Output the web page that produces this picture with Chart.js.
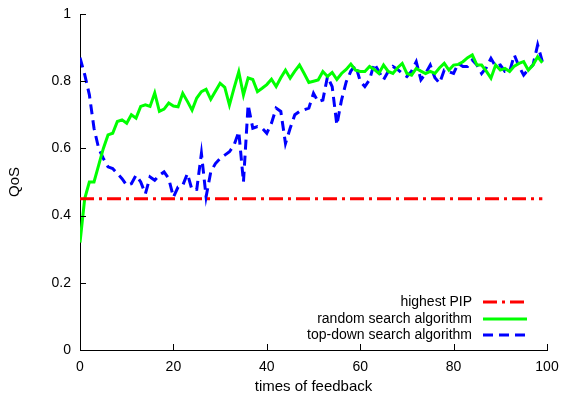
<!DOCTYPE html>
<html>
<head>
<meta charset="utf-8">
<script src="https://cdn.jsdelivr.net/npm/chart.js@4"></script>
<style>
  html, body { margin: 0; padding: 0; background: #fff; }
  #wrap { width: 562px; height: 396px; }
</style>
</head>
<body>
<div id="wrap"><canvas id="qos"></canvas></div>
<script>
// ── data ─────────────────────────────────────────────────────
const SERIES_NAMES = ['highest PIP', 'random search algorithm', 'top-down search algorithm'];
const X_TICKS = [0, 20, 40, 60, 80, 100];
const Y_TICKS = [0, 0.2, 0.4, 0.6, 0.8, 1];

const highestPip = [
  0.45, 0.45, 0.45, 0.45, 0.45, 0.45, 0.45, 0.45, 0.45, 0.45,
  0.45, 0.45, 0.45, 0.45, 0.45, 0.45, 0.45, 0.45, 0.45, 0.45,
  0.45, 0.45, 0.45, 0.45, 0.45, 0.45, 0.45, 0.45, 0.45, 0.45,
  0.45, 0.45, 0.45, 0.45, 0.45, 0.45, 0.45, 0.45, 0.45, 0.45,
  0.45, 0.45, 0.45, 0.45, 0.45, 0.45, 0.45, 0.45, 0.45, 0.45,
  0.45, 0.45, 0.45, 0.45, 0.45, 0.45, 0.45, 0.45, 0.45, 0.45,
  0.45, 0.45, 0.45, 0.45, 0.45, 0.45, 0.45, 0.45, 0.45, 0.45,
  0.45, 0.45, 0.45, 0.45, 0.45, 0.45, 0.45, 0.45, 0.45, 0.45,
  0.45, 0.45, 0.45, 0.45, 0.45, 0.45, 0.45, 0.45, 0.45, 0.45,
  0.45, 0.45, 0.45, 0.45, 0.45, 0.45, 0.45, 0.45, 0.45, 0.45,
];

const randomSearch = [
  0.32, 0.45, 0.50, 0.50, 0.55, 0.60, 0.64, 0.645, 0.68, 0.685,
  0.675, 0.70, 0.69, 0.725, 0.73, 0.725, 0.765, 0.71, 0.717, 0.735,
  0.726, 0.724, 0.764, 0.74, 0.714, 0.75, 0.769, 0.776, 0.746, 0.77,
  0.794, 0.782, 0.729, 0.78, 0.828, 0.759, 0.81, 0.805, 0.769, 0.779,
  0.79, 0.806, 0.784, 0.81, 0.833, 0.809, 0.83, 0.848, 0.823, 0.796,
  0.80, 0.804, 0.829, 0.814, 0.826, 0.805, 0.823, 0.835, 0.851, 0.833,
  0.829, 0.829, 0.844, 0.835, 0.823, 0.848, 0.829, 0.823, 0.84, 0.853,
  0.823, 0.818, 0.838, 0.83, 0.823, 0.829, 0.823, 0.84, 0.853, 0.833,
  0.848, 0.85, 0.858, 0.87, 0.878, 0.848, 0.848, 0.83, 0.809, 0.848,
  0.833, 0.838, 0.829, 0.845, 0.853, 0.858, 0.833, 0.848, 0.873, 0.855,
];

const topDownSearch = [
  0.87, 0.82, 0.76, 0.66, 0.60, 0.57, 0.545, 0.54, 0.525, 0.51,
  0.49, 0.495, 0.52, 0.50, 0.465, 0.515, 0.505, 0.52, 0.53, 0.51,
  0.455, 0.485, 0.49, 0.525, 0.476, 0.478, 0.585, 0.456, 0.53, 0.555,
  0.57, 0.58, 0.59, 0.61, 0.65, 0.50, 0.73, 0.66, 0.665, 0.66,
  0.645, 0.675, 0.72, 0.71, 0.615, 0.66, 0.70, 0.71, 0.715, 0.72,
  0.764, 0.739, 0.744, 0.814, 0.784, 0.67, 0.744, 0.798, 0.83, 0.848,
  0.80, 0.784, 0.804, 0.853, 0.829, 0.804, 0.829, 0.844, 0.835, 0.823,
  0.814, 0.83, 0.858, 0.804, 0.823, 0.848, 0.81, 0.794, 0.833, 0.828,
  0.823, 0.853, 0.844, 0.844, 0.863, 0.848, 0.823, 0.84, 0.868, 0.844,
  0.848, 0.829, 0.829, 0.878, 0.844, 0.818, 0.835, 0.848, 0.908, 0.858,
];

const FONT = '"Liberation Sans", Arial, sans-serif';
const toPoints = arr => arr.map((v, i) => ({ x: i, y: v }));

// inward tick marks like the original plot
const inwardTicks = {
  id: 'inwardTicks',
  afterDatasetsDraw(chart) {
    const { ctx, chartArea: a, scales: { x, y } } = chart;
    ctx.save();
    ctx.strokeStyle = '#000';
    ctx.lineWidth = 1;
    ctx.beginPath();
    X_TICKS.forEach(v => {
      const px = Math.round(x.getPixelForValue(v)) + 0.5;
      ctx.moveTo(px, a.bottom);
      ctx.lineTo(px, a.bottom - 6);
    });
    Y_TICKS.forEach(v => {
      const py = Math.round(y.getPixelForValue(v)) + 0.5;
      ctx.moveTo(a.left, py);
      ctx.lineTo(a.left + 6, py);
    });
    ctx.stroke();
    ctx.restore();
  }
};

// legend: text right-aligned, sample line on the right
const keyBox = {
  id: 'keyBox',
  afterDraw(chart) {
    const { ctx } = chart;
    const textRight = 472, lineL = 483, lineR = 527;
    const rows = [302, 319, 335];
    ctx.save();
    ctx.font = '14px ' + FONT;
    ctx.textAlign = 'right';
    ctx.textBaseline = 'middle';
    chart.data.datasets.forEach((ds, i) => {
      ctx.fillStyle = '#000';
      ctx.fillText(ds.label, textRight, rows[i]);
      ctx.strokeStyle = ds.borderColor;
      ctx.lineWidth = ds.borderWidth;
      ctx.setLineDash(ds.borderDash || []);
      ctx.beginPath();
      ctx.moveTo(lineL, rows[i]);
      ctx.lineTo(lineR, rows[i]);
      ctx.stroke();
    });
    ctx.restore();
  }
};

new Chart(document.getElementById('qos'), {
  type: 'line',
  data: {
    datasets: [
      { label: SERIES_NAMES[0], data: toPoints(highestPip), borderColor: '#ff0000',
        borderWidth: 3, borderDash: [14, 5, 3, 5] },
      { label: SERIES_NAMES[1], data: toPoints(randomSearch), borderColor: '#00ff00',
        borderWidth: 3 },
      { label: SERIES_NAMES[2], data: toPoints(topDownSearch), borderColor: '#0000ff',
        borderWidth: 3, borderDash: [10, 6] },
    ],
  },
  options: {
    responsive: true,
    maintainAspectRatio: false,
    animation: false,
    layout: { padding: { top: 14, right: 15, left: 0, bottom: 0 } },
    elements: { point: { radius: 0 }, line: { tension: 0, fill: false } },
    plugins: { legend: { display: false }, tooltip: { enabled: false } },
    scales: {
      x: {
        type: 'linear', min: 0, max: 100,
        afterFit: s => { s.height = 46; s.paddingRight = 0; s.paddingLeft = 0; },
        afterBuildTicks: s => { s.ticks = X_TICKS.map(v => ({ value: v })); },
        grid: { display: false, drawTicks: false },
        border: { display: true, color: '#000', width: 1 },
        ticks: { color: '#000', padding: 9, maxRotation: 0, font: { family: FONT, size: 14 } },
        title: { display: true, text: 'times of feedback', color: '#000',
          padding: { top: 0, bottom: 0 }, font: { family: FONT, size: 15 } },
      },
      y: {
        min: 0, max: 1,
        afterFit: s => { s.width = 80; s.paddingTop = 0; s.paddingBottom = 0; },
        afterBuildTicks: s => { s.ticks = Y_TICKS.map(v => ({ value: v })); },
        grid: { display: false, drawTicks: false },
        border: { display: true, color: '#000', width: 1 },
        ticks: { color: '#000', padding: 9, font: { family: FONT, size: 14 },
          callback: v => String(+v.toFixed(1)) },
        title: { display: true, text: 'QoS', color: '#000',
          padding: { top: 6, bottom: 0 }, font: { family: FONT, size: 15 } },
      },
    },
  },
  plugins: [inwardTicks, keyBox],
});
</script>
</body>
</html>
